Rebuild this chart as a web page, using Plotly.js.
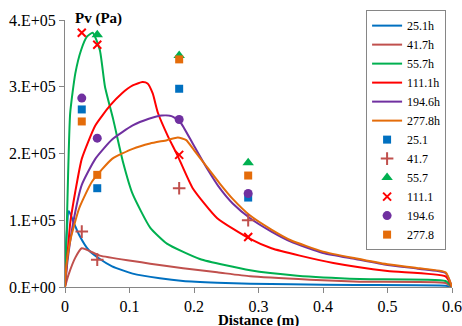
<!DOCTYPE html>
<html>
<head>
<meta charset="utf-8">
<script src="https://cdn.plot.ly/plotly-3.0.1.min.js"></script>
<style>html,body{margin:0;padding:0;background:#fff;}#chart{width:462px;height:326px;}</style>
</head>
<body>
<div id="chart"></div>
<script>
// ---- simulated curves (Pa) ----
const x25h = [0, 0.002, 0.006, 0.012, 0.022, 0.037, 0.054, 0.073, 0.105, 0.147, 0.183, 0.236, 0.287, 0.35, 0.45, 0.59, 0.6];
const y25h = [0, 70000, 114000, 100000, 78000, 55000, 42000, 31000, 20000, 13000, 9000, 6500, 5000, 4000, 3000, 2000, 0];

const x41h = [0, 0.005, 0.016, 0.026, 0.054, 0.105, 0.132, 0.183, 0.236, 0.287, 0.38, 0.457, 0.59, 0.6];
const y41h = [0, 17000, 44000, 58000, 47000, 39000, 35000, 28000, 22000, 16000, 11000, 8000, 6000, 0];

const x55h = [0, 0.003, 0.008, 0.016, 0.025, 0.034, 0.043, 0.054, 0.062, 0.075, 0.09, 0.105, 0.132, 0.158, 0.209, 0.287, 0.36, 0.457, 0.59, 0.6];
const y55h = [0, 100000, 260000, 320000, 355000, 375000, 381000, 355000, 300000, 250000, 187000, 139000, 89000, 65000, 42000, 25000, 17000, 12000, 9000, 0];

const x111h = [0, 0.004, 0.008, 0.016, 0.026, 0.047, 0.07, 0.088, 0.105, 0.12, 0.128, 0.136, 0.144, 0.16, 0.174, 0.198, 0.236, 0.287, 0.32, 0.364, 0.416, 0.5, 0.59, 0.6];
const y111h = [0, 50000, 95000, 143000, 192000, 242000, 272000, 290000, 302000, 307000, 305000, 290000, 261000, 225000, 198000, 148000, 103000, 72000, 58000, 47000, 36000, 24000, 16000, 0];

const x194h = [0, 0.004, 0.014, 0.026, 0.047, 0.073, 0.105, 0.13, 0.15, 0.165, 0.178, 0.198, 0.22, 0.24, 0.26, 0.287, 0.32, 0.35, 0.4, 0.45, 0.5, 0.55, 0.59, 0.6];
const y194h = [0, 40000, 103000, 153000, 192000, 221000, 242000, 252000, 257000, 256000, 248000, 215000, 178000, 148000, 125000, 103000, 83000, 68000, 51000, 42000, 33000, 27000, 21000, 0];

const x277h = [0, 0.002, 0.008, 0.022, 0.042, 0.073, 0.105, 0.132, 0.158, 0.175, 0.188, 0.2, 0.22, 0.24, 0.26, 0.287, 0.32, 0.35, 0.4, 0.45, 0.5, 0.55, 0.59, 0.6];
const y277h = [0, 30000, 69000, 118000, 158000, 192000, 207000, 215000, 220000, 224000, 220000, 205000, 180000, 155000, 132000, 107000, 86000, 70000, 53000, 43000, 34000, 28000, 22000, 0];

// ---- measured points (Pa) ----
const xMeas = [0.026, 0.05, 0.177, 0.284];
const m25  = [266000, 148000, 297000, 134000];
const m41  = [83000, 41000, 148000, 100000];
const m55  = [null, 378000, 347000, 186000];
const m111 = [381000, 363000, 198000, 75000];
const m194 = [283000, 223000, 251000, 140000];
const m277 = [248000, 168000, 341000, 167000];

const lineNames = ['25.1h', '41.7h', '55.7h', '111.1h', '194.6h', '277.8h'];
const ptNames = ['25.1', '41.7', '55.7', '111.1', '194.6', '277.8'];
const colors = ['#0070C0', '#C0504D', '#00B050', '#FF0000', '#7030A0', '#E46C0A'];

const yTickVals = [0, 100000, 200000, 300000, 400000];
const yTickText = ['0.E+00', '1.E+05', '2.E+05', '3.E+05', '4.E+05'];
const xTickVals = [0, 0.1, 0.2, 0.3, 0.4, 0.5, 0.6];
const xTickText = ['0', '0.1', '0.2', '0.3', '0.4', '0.5', '0.6'];
const xTitle = 'Distance (m)';
const yTitle = 'Pv (Pa)';

const lx = [x25h, x41h, x55h, x111h, x194h, x277h];
const ly = [y25h, y41h, y55h, y111h, y194h, y277h];
const my = [m25, m41, m55, m111, m194, m277];
const symbols = ['square', 'cross-thin-open', 'triangle-up', 'x-thin-open', 'circle', 'square'];
const sizes = [8, 9, 10, 8, 9, 8];

const traces = [];
for (let i = 0; i < 6; i++) {
  traces.push({
    x: lx[i], y: ly[i], name: lineNames[i], type: 'scatter', mode: 'lines',
    line: {color: colors[i], width: 2, shape: 'spline', smoothing: 0.5}
  });
}
for (let i = 0; i < 6; i++) {
  const thin = symbols[i].indexOf('thin') >= 0;
  traces.push({
    x: xMeas, y: my[i], name: ptNames[i], type: 'scatter', mode: 'markers',
    marker: {color: colors[i], symbol: symbols[i], size: sizes[i],
             line: thin ? {color: colors[i], width: 2} : {width: 0}}
  });
}

const FAM = 'Liberation Serif';
const font = {family: FAM, size: 16, color: '#000'};

const layout = {
  width: 462, height: 326,
  margin: {l: 65, r: 10, t: 16, b: 39},
  paper_bgcolor: '#fff', plot_bgcolor: '#fff',
  font: font,
  showlegend: true,
  legend: {
    x: 0.778, y: 1.037, xanchor: 'left', yanchor: 'top',
    bgcolor: '#fff', bordercolor: '#868686', borderwidth: 1,
    font: {family: FAM, size: 12, color: '#000'},
    itemwidth: 30, tracegroupgap: 0, maxheight: 1
  },
  xaxis: {
    range: [0, 0.6], tickvals: xTickVals, ticktext: xTickText,
    showgrid: false, zeroline: false, showline: true, linecolor: '#868686', linewidth: 1,
    ticks: 'outside', ticklen: 5, tickcolor: '#868686',
    tickfont: font, automargin: false
  },
  yaxis: {
    range: [0, 400000], tickvals: yTickVals, ticktext: yTickText,
    showgrid: false, zeroline: false, showline: true, linecolor: '#868686', linewidth: 1,
    ticks: 'outside', ticklen: 5, tickcolor: '#868686',
    tickfont: font, automargin: false
  },
  annotations: [{
    text: '<b>' + yTitle + '</b>', xref: 'paper', yref: 'paper', x: 0.02, y: 1, xanchor: 'left', yanchor: 'middle',
    yshift: 2, showarrow: false, font: {family: FAM, size: 15, color: '#000'}
  }, {
    text: '<b>' + xTitle + '</b>', xref: 'paper', yref: 'paper', x: 0.5, y: 0, xanchor: 'center', yanchor: 'middle',
    yshift: -33, showarrow: false, font: {family: FAM, size: 15, color: '#000'}
  }]
};

Plotly.newPlot('chart', traces, layout, {displayModeBar: false, staticPlot: true});
</script>
</body>
</html>
